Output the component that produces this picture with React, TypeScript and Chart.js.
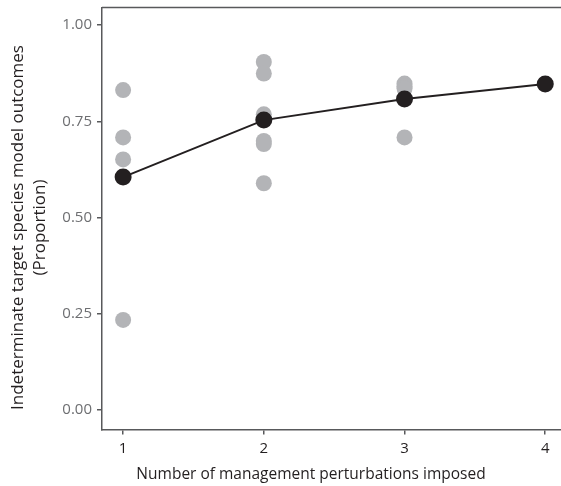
import React, { useEffect, useRef } from "react";
import { Chart, registerables } from "chart.js";

Chart.register(...registerables);

const xCategories = [1, 2, 3, 4];
const yTickValues = [0, 0.25, 0.5, 0.75, 1.0];

const obsPerturb1 = [0.831, 0.708, 0.651, 0.234];
const obsPerturb2 = [0.904, 0.874, 0.768, 0.699, 0.691, 0.589];
const obsPerturb3 = [0.848, 0.840, 0.835, 0.708];
const obsPerturb4 = [0.847];
const meanValues = [0.605, 0.753, 0.808, 0.847];

const xTitle = "Number of management perturbations imposed";
const yTitle = ["Indeterminate target species model outcomes", "(Proportion)"];

const FONT = "'Open Sans', 'Noto Sans', sans-serif";

export default function App() {
  const ref = useRef<HTMLCanvasElement | null>(null);

  useEffect(() => {
    if (!ref.current) return;
    const groups = [obsPerturb1, obsPerturb2, obsPerturb3, obsPerturb4];
    const obsPoints: { x: number; y: number }[] = [];
    groups.forEach((g, i) => g.forEach((v) => obsPoints.push({ x: xCategories[i], y: v })));
    const meanPoints = meanValues.map((v, i) => ({ x: xCategories[i], y: v }));

    const frame = {
      id: "frame",
      afterDatasetsDraw(chart: any) {
        const { ctx, chartArea } = chart;
        ctx.save();
        ctx.strokeStyle = "#58595b";
        ctx.lineWidth = 1.5;
        ctx.beginPath();
        ctx.moveTo(chartArea.left, chartArea.top);
        ctx.lineTo(chartArea.right, chartArea.top);
        ctx.stroke();
        ctx.restore();
      },
      afterDraw(chart: any) {
        const { ctx, chartArea } = chart;
        ctx.save();
        ctx.fillStyle = "#231f20";
        ctx.textAlign = "center";
        ctx.textBaseline = "middle";
        ctx.font = `15.5px ${FONT}`;
        ctx.fillText(xTitle, chartArea.left + 209, 475);
        ctx.font = `17px ${FONT}`;
        ctx.translate(0, 227.5);
        ctx.rotate(-Math.PI / 2);
        ctx.fillText(yTitle[0], 0, 18.5);
        ctx.fillText(yTitle[1], 0, 40.5);
        ctx.restore();
      },
    };

    const zeroPad = (s: any) => {
      s.paddingLeft = 0;
      s.paddingRight = 0;
      s.paddingTop = 0;
      s.paddingBottom = 0;
    };

    const chart = new Chart(ref.current, {
      type: "scatter",
      data: {
        datasets: [
          {
            label: "Mean",
            data: meanPoints,
            showLine: true,
            borderColor: "#231f20",
            backgroundColor: "#231f20",
            borderWidth: 2,
            pointRadius: 8.5,
            pointBorderWidth: 0,
            order: 0,
            clip: false,
          },
          {
            label: "Outcomes",
            data: obsPoints,
            showLine: false,
            backgroundColor: "#b3b4b7",
            borderColor: "#b3b4b7",
            pointRadius: 8,
            pointBorderWidth: 0,
            order: 1,
            clip: false,
          },
        ],
      },
      options: {
        animation: false,
        responsive: true,
        maintainAspectRatio: false,
        layout: { autoPadding: false, padding: { top: 7.5, right: 0, left: 0, bottom: 0 } },
        plugins: { legend: { display: false }, tooltip: { enabled: false } },
        scales: {
          x: {
            type: "linear",
            min: 0.85,
            max: 4.112,
            afterBuildTicks: (s: any) => {
              s.ticks = xCategories.map((v) => ({ value: v }));
            },
            afterFit: (s: any) => {
              s.height = 56.5;
              zeroPad(s);
            },
            grid: {
              display: true,
              drawOnChartArea: false,
              drawTicks: true,
              tickLength: 5,
              color: "#58595b",
              lineWidth: 1.5,
            },
            border: { display: true, color: "#58595b", width: 1.5 },
            ticks: {
              color: "#231f20",
              font: { family: FONT, size: 15 },
              padding: 5,
              maxRotation: 0,
              callback: (v: any) => String(v),
            },
          },
          y: {
            type: "linear",
            min: -0.0506,
            max: 1.0455,
            afterBuildTicks: (s: any) => {
              s.ticks = yTickValues.map((v) => ({ value: v }));
            },
            afterFit: (s: any) => {
              s.width = 102;
              zeroPad(s);
            },
            grid: {
              display: true,
              drawOnChartArea: false,
              drawTicks: true,
              tickLength: 5,
              color: "#58595b",
              lineWidth: 1.5,
            },
            border: { display: true, color: "#58595b", width: 1.5 },
            ticks: {
              color: "#6d6e71",
              font: { family: FONT, size: 15 },
              padding: 5,
              callback: (v: any) => Number(v).toFixed(2),
            },
          },
        },
      },
      plugins: [frame],
    });
    return () => chart.destroy();
  }, []);

  return (
    <div style={{ position: "absolute", left: 0, top: 0, width: 561, height: 486, background: "#fff" }}>
      <canvas ref={ref} />
    </div>
  );
}
